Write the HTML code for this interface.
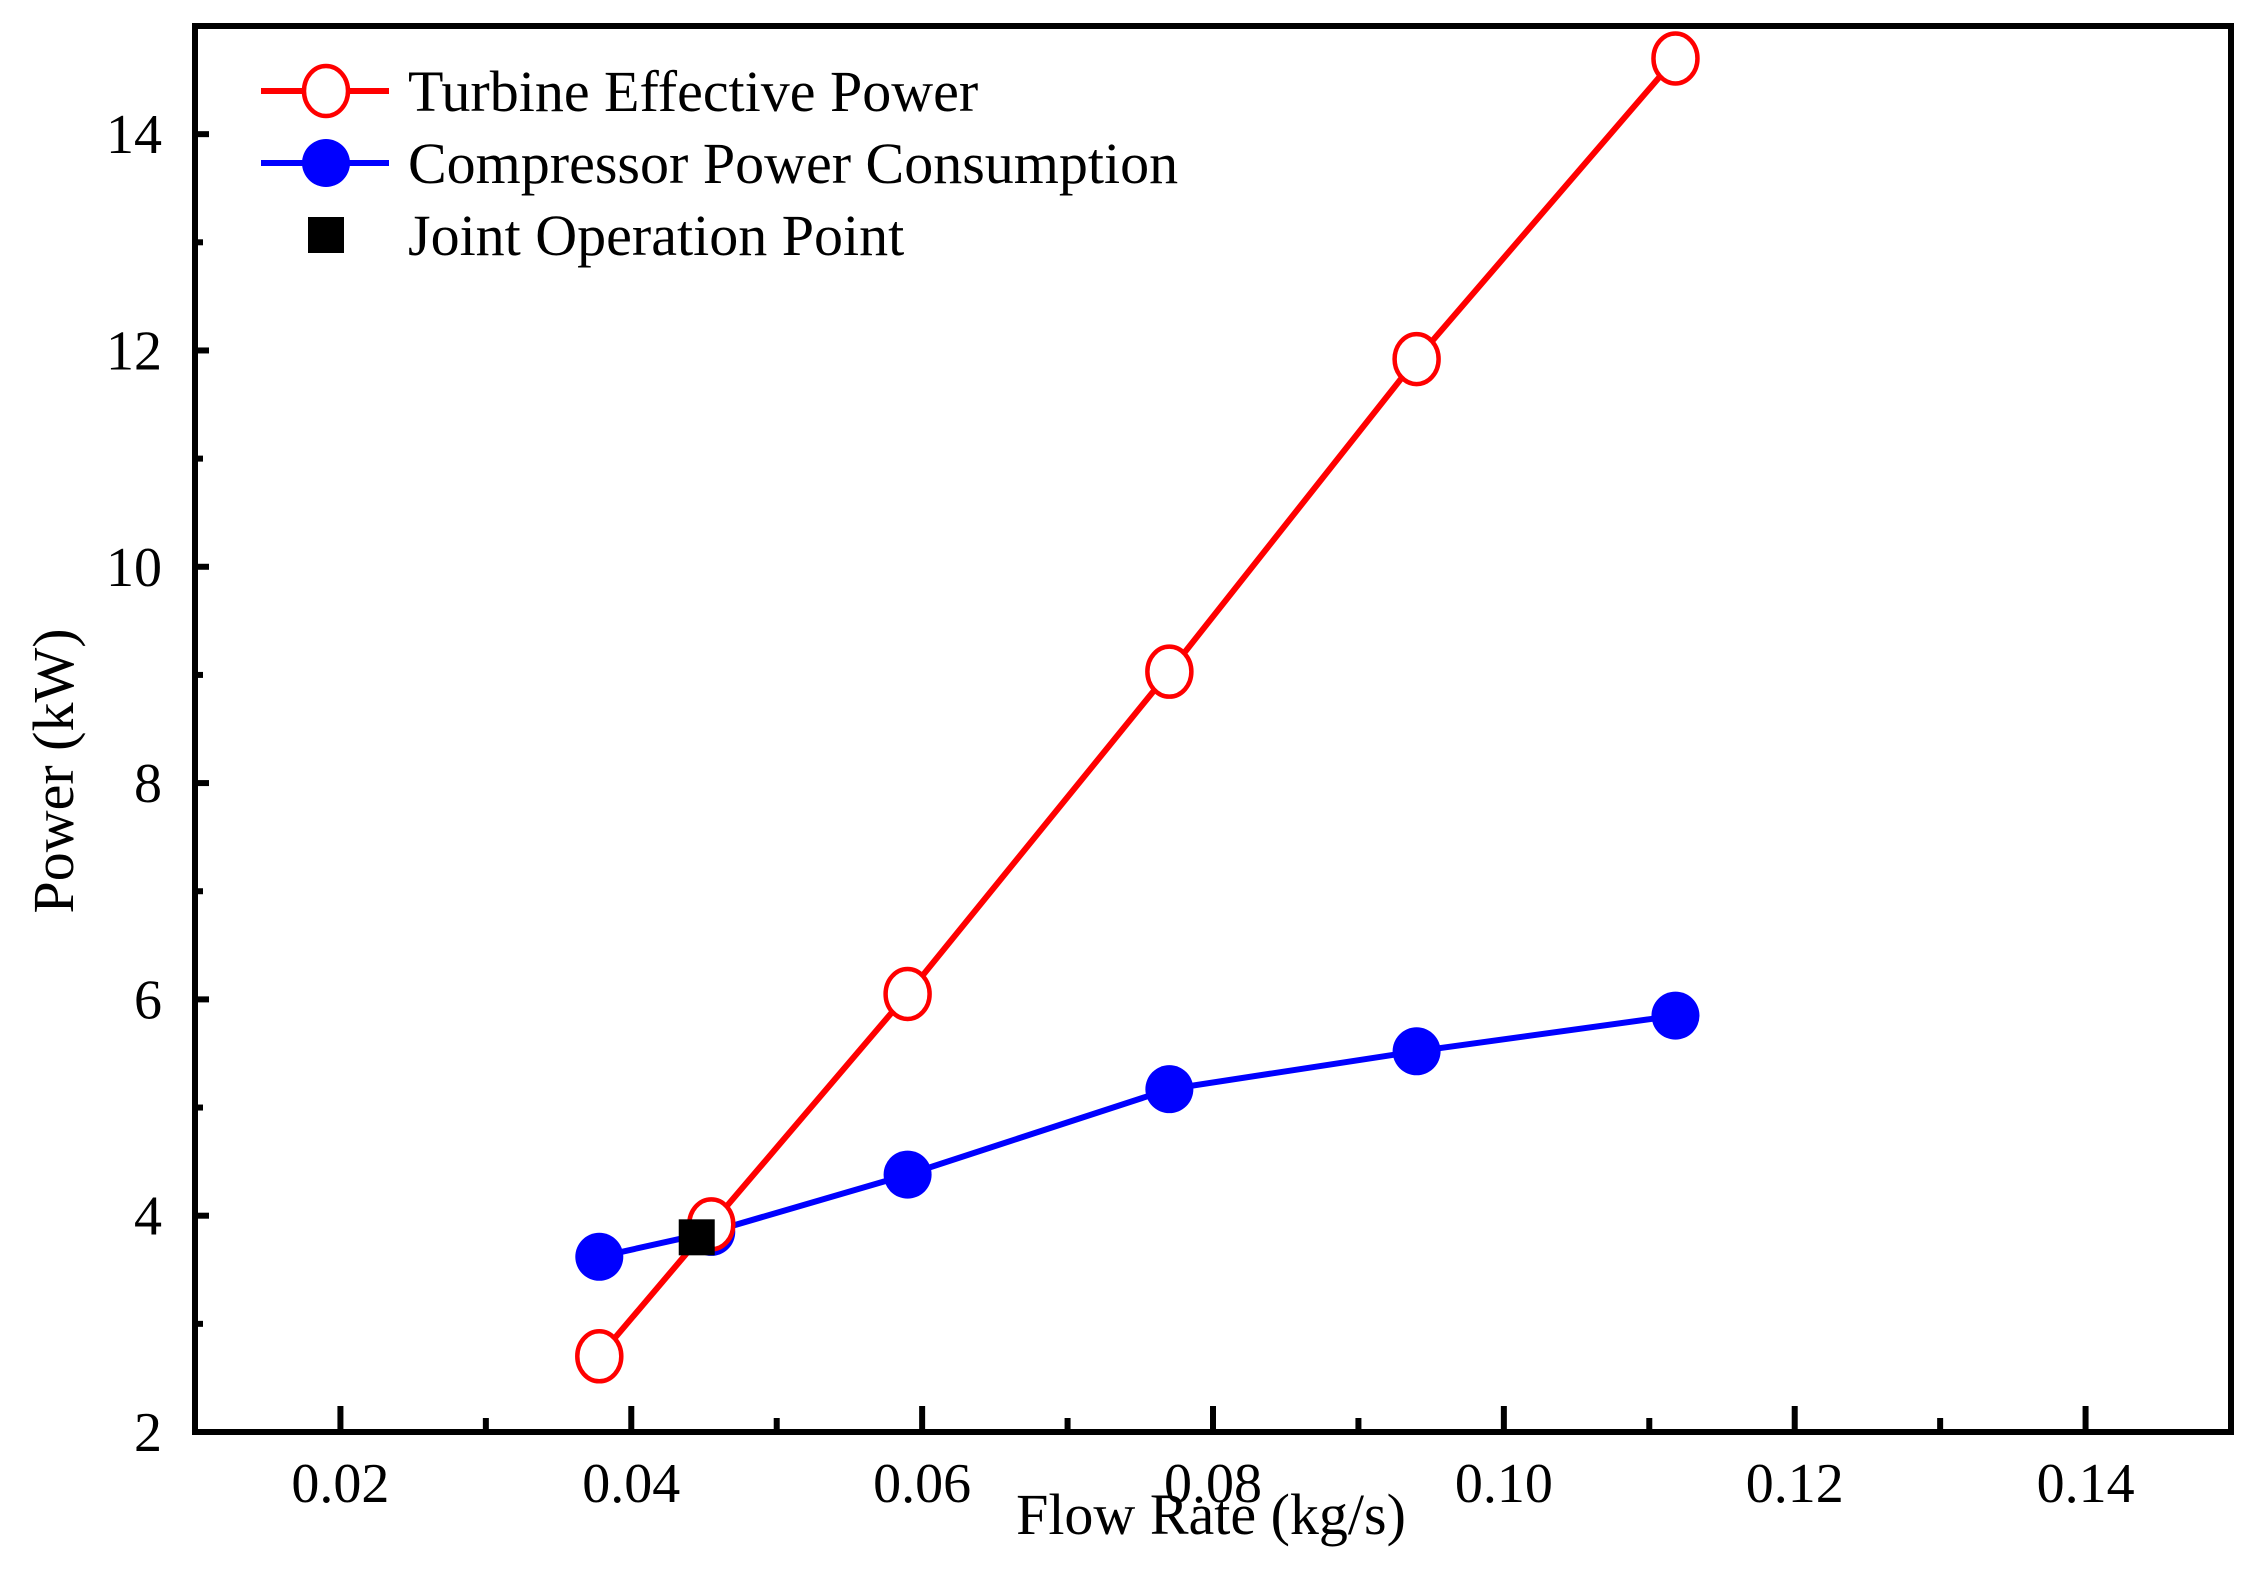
<!DOCTYPE html>
<html><head><meta charset="utf-8"><style>
html,body{margin:0;padding:0;background:#fff;}
svg{display:block;font-family:"Liberation Serif",serif;}
</style></head><body>
<svg id="chart" width="2261" height="1571" viewBox="0 0 2261 1571"></svg>
<script>
const xTicks=[0.02,0.04,0.06,0.08,0.10,0.12,0.14];
const xTickLabels=["0.02","0.04","0.06","0.08","0.10","0.12","0.14"];
const yTicks=[2,4,6,8,10,12,14];
const yTickLabels=["2","4","6","8","10","12","14"];
const flowRates=[0.0378,0.0455,0.059,0.077,0.094,0.1118];
const turbinePower=[2.7,3.92,6.05,9.03,11.92,14.7];
const compressorPower=[3.62,3.85,4.38,5.17,5.52,5.85];
const jointX=[0.0445];
const jointY=[3.8];

const L=195,R=2231,T=26,B=1432;
const xMin=0.01,xMax=0.15,yMin=2,yMax=15;
const sx=v=>L+(v-xMin)/(xMax-xMin)*(R-L);
const sy=v=>B-(v-yMin)/(yMax-yMin)*(B-T);
const svg=document.getElementById('chart');
const NS='http://www.w3.org/2000/svg';
function mk(tag,attrs,parent){const e=document.createElementNS(NS,tag);for(const k in attrs)e.setAttribute(k,attrs[k]);(parent||svg).appendChild(e);return e;}

const frame=mk('rect',{x:L,y:T,width:R-L,height:B-T,fill:'none',stroke:'#000','stroke-width':6});



xTicks.forEach((v,i)=>{
  const x=sx(v);
  const t=mk('line',{x1:x,x2:x,y1:B,y2:B-26,stroke:'#000','stroke-width':6});
  
  
  const m=mk('line',{x1:sx(v+0.01),x2:sx(v+0.01),y1:B,y2:B-14,stroke:'#000','stroke-width':6});
  
  
  const lb=mk('text',{x:x,y:B+70,'text-anchor':'middle','font-size':56});
  lb.textContent=xTickLabels[i];
  
  
});
yTicks.forEach((v,i)=>{
  const y=sy(v);
  const t=mk('line',{x1:L,x2:L+14,y1:y,y2:y,stroke:'#000','stroke-width':6});
  
  
  const m=mk('line',{x1:L,x2:L+8,y1:sy(v+1),y2:sy(v+1),stroke:'#000','stroke-width':6});
  
  
  const lb=mk('text',{x:L-33,y:y+19,'text-anchor':'end','font-size':56});
  lb.textContent=yTickLabels[i];
  
  
});

const xt=mk('text',{x:1211,y:1534,'text-anchor':'middle','font-size':58});
xt.textContent='Flow Rate (kg/s)';


const yt=mk('text',{x:0,y:0,'text-anchor':'middle','font-size':58,transform:'translate(73,771) rotate(-90)'});
yt.textContent='Power (kW)';



function line(vals,color,name){
  const p=mk('polyline',{points:flowRates.map((x,i)=>sx(x)+','+sy(vals[i])).join(' '),fill:'none',stroke:color,'stroke-width':6});
  
  
}
line(turbinePower,'#ff0000','turbine-line');
line(compressorPower,'#0000ff','compressor-line');
flowRates.forEach((x,i)=>{
  const c=mk('circle',{cx:sx(x),cy:sy(compressorPower[i]),r:24,fill:'#0000ff'});
  
  
});
flowRates.forEach((x,i)=>{
  const c=mk('ellipse',{cx:sx(x),cy:sy(turbinePower[i]),rx:22,ry:25,fill:'#fff',stroke:'#ff0000','stroke-width':4.5});
  
  
});
jointX.forEach((x,i)=>{
  const s=mk('rect',{x:sx(x)-18,y:sy(jointY[i])-18,width:36,height:36,fill:'#000'});
  
  
});

const leg=[['Turbine Effective Power','turbine'],['Compressor Power Consumption','compressor'],['Joint Operation Point','joint']];
leg.forEach((e,i)=>{
  const y=91+i*72;
  const g=mk('g',{});
  
  
  if(e[1]==='turbine'){
    mk('line',{x1:261,x2:389,y1:y,y2:y,stroke:'#ff0000','stroke-width':6},g);
    mk('ellipse',{cx:326,cy:y,rx:22,ry:25,fill:'#fff',stroke:'#ff0000','stroke-width':4.5},g);
  }else if(e[1]==='compressor'){
    mk('line',{x1:261,x2:389,y1:y,y2:y,stroke:'#0000ff','stroke-width':6},g);
    mk('circle',{cx:326,cy:y,r:24,fill:'#0000ff'},g);
  }else{
    mk('rect',{x:308,y:y-18,width:36,height:36,fill:'#000'},g);
  }
  const t=mk('text',{x:408,y:y+20,'font-size':58},g);
  t.textContent=e[0];
});
</script>
</body></html>
